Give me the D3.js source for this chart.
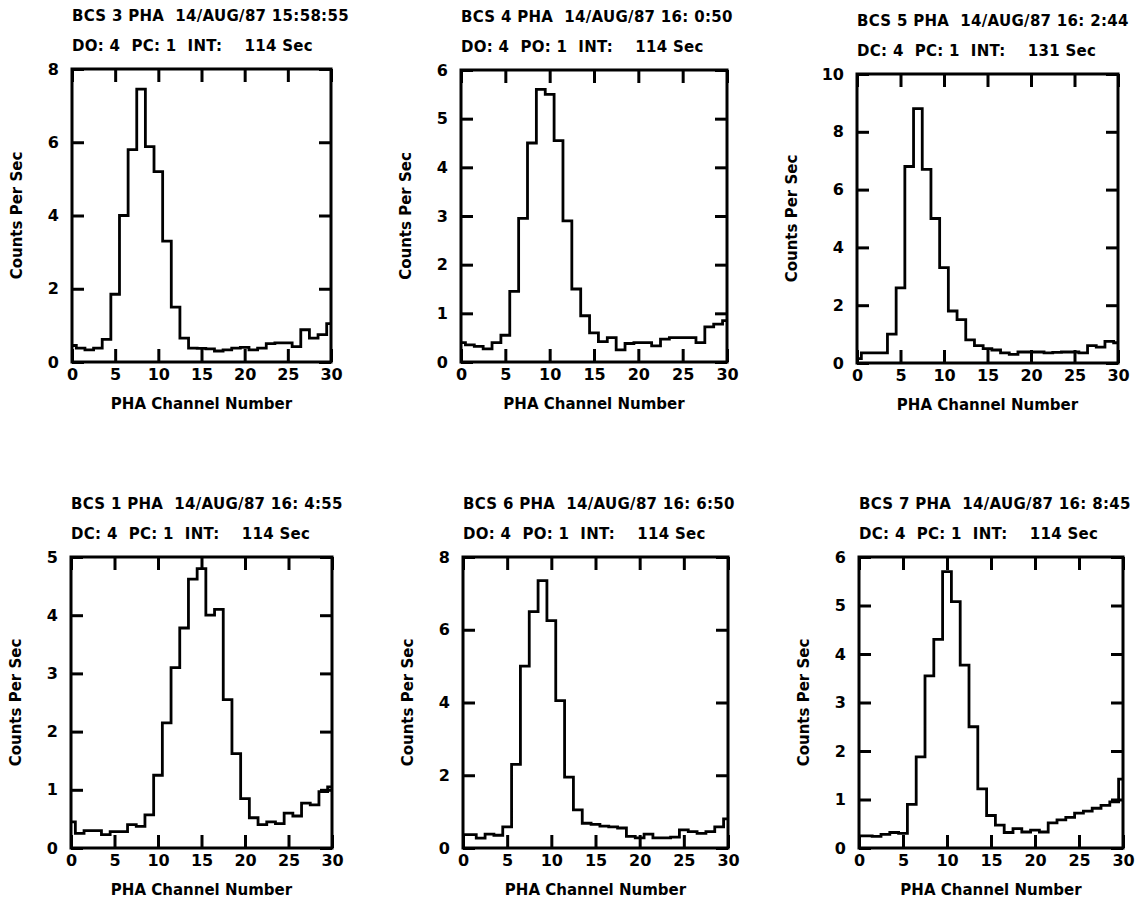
<!DOCTYPE html>
<html>
<head>
<meta charset="utf-8">
<script src="https://cdn.jsdelivr.net/npm/d3@7"></script>
<style>
  body { margin: 0; background: #fff; }
  svg text { font-family: "DejaVu Sans", sans-serif; font-weight: bold; fill: #000; }
</style>
</head>
<body>
<svg id="chart" width="1146" height="900"></svg>
<script>
// PHA channel numbers (bins centred on the integer channel)
const channels = [0, 1, 2, 3, 4, 5, 6, 7, 8, 9, 10, 11, 12, 13, 14, 15,
  16, 17, 18, 19, 20, 21, 22, 23, 24, 25, 26, 27, 28, 29, 30];
const xTicks = [0, 5, 10, 15, 20, 25, 30];

// counts per sec, one value per channel
const bcs3 = [0.45, 0.38, 0.33, 0.38, 0.62, 1.85, 4.0, 5.8, 7.45, 5.88, 5.2, 3.3, 1.5, 0.65, 0.38, 0.37,
  0.36, 0.3, 0.33, 0.38, 0.4, 0.33, 0.38, 0.5, 0.52, 0.52, 0.42, 0.88, 0.65, 0.75, 1.05];
const bcs4 = [0.4, 0.35, 0.32, 0.27, 0.4, 0.55, 1.45, 2.95, 4.5, 5.6, 5.5, 4.55, 2.9, 1.5, 0.95, 0.6,
  0.42, 0.5, 0.25, 0.38, 0.4, 0.4, 0.33, 0.47, 0.5, 0.5, 0.5, 0.4, 0.72, 0.78, 0.85];
const bcs5 = [0.15, 0.35, 0.35, 0.35, 1.0, 2.6, 6.8, 8.8, 6.7, 5.0, 3.3, 1.8, 1.5, 0.8, 0.6, 0.5,
  0.45, 0.35, 0.3, 0.38, 0.38, 0.38, 0.35, 0.37, 0.38, 0.38, 0.35, 0.6, 0.55, 0.75, 0.7];
const bcs1 = [0.45, 0.25, 0.3, 0.3, 0.23, 0.28, 0.28, 0.4, 0.37, 0.57, 1.25, 2.15, 3.1, 3.78, 4.62, 4.8,
  4.0, 4.1, 2.55, 1.62, 0.85, 0.52, 0.4, 0.45, 0.42, 0.6, 0.55, 0.77, 0.74, 0.97, 1.05];
const bcs6 = [0.37, 0.37, 0.27, 0.38, 0.35, 0.58, 2.3, 5.0, 6.5, 7.35, 6.25, 4.05, 1.95, 1.05, 0.68, 0.65,
  0.6, 0.58, 0.55, 0.32, 0.28, 0.38, 0.28, 0.28, 0.3, 0.5, 0.45, 0.4, 0.45, 0.58, 0.8];
const bcs7 = [0.25, 0.25, 0.24, 0.28, 0.32, 0.3, 0.9, 1.88, 3.55, 4.3, 5.7, 5.08, 3.77, 2.5, 1.22, 0.67,
  0.47, 0.32, 0.4, 0.33, 0.37, 0.33, 0.52, 0.58, 0.63, 0.72, 0.76, 0.82, 0.88, 0.95, 1.42];

const titles = [
  "BCS 3 PHA  14/AUG/87 15:58:55",
  "BCS 4 PHA  14/AUG/87 16: 0:50",
  "BCS 5 PHA  14/AUG/87 16: 2:44",
  "BCS 1 PHA  14/AUG/87 16: 4:55",
  "BCS 6 PHA  14/AUG/87 16: 6:50",
  "BCS 7 PHA  14/AUG/87 16: 8:45"
];
const subtitles = [
  "DO: 4  PC: 1  INT:    114 Sec",
  "DO: 4  PO: 1  INT:    114 Sec",
  "DC: 4  PC: 1  INT:    131 Sec",
  "DC: 4  PC: 1  INT:    114 Sec",
  "DO: 4  PO: 1  INT:    114 Sec",
  "DC: 4  PC: 1  INT:    114 Sec"
];
const yTicks = [
  [0, 2, 4, 6, 8],
  [0, 1, 2, 3, 4, 5, 6],
  [0, 2, 4, 6, 8, 10],
  [0, 1, 2, 3, 4, 5],
  [0, 2, 4, 6, 8],
  [0, 1, 2, 3, 4, 5, 6]
];
const series = [bcs3, bcs4, bcs5, bcs1, bcs6, bcs7];

// frame boxes [left, top, right, bottom]
const boxes = [
  [72, 69, 331, 362],
  [461, 70, 727, 362],
  [857, 74, 1118, 363],
  [71, 557, 332, 848],
  [463, 557, 728, 848],
  [859, 557, 1123, 848]
];

const svg = d3.select('#chart');

function drawPanel(i) {
  const [x0, y0, x1, y1] = boxes[i];
  const ticks = yTicks[i];

  const x = d3.scaleLinear().domain([0, 30]).range([x0, x1]);
  const y = d3.scaleLinear().domain([0, d3.max(ticks)]).range([y1, y0]);

  const g = svg.append('g');

  const line = d3.line()
    .x((d, k) => x(channels[k]))
    .y(d => y(d))
    .curve(d3.curveStep);

  g.append('path')
    .datum(series[i])
    .attr('d', line)
    .attr('fill', 'none')
    .attr('stroke', '#000')
    .attr('stroke-width', 2.8)
    .attr('stroke-linejoin', 'miter');

  const fmt = d3.format('d');
  const axes = [
    [d3.axisBottom(x).tickValues(xTicks).tickSize(-13).tickPadding(7).tickFormat(fmt), `translate(0,${y1})`],
    [d3.axisTop(x).tickValues(xTicks).tickSize(-13).tickFormat(''), `translate(0,${y0})`],
    [d3.axisLeft(y).tickValues(ticks).tickSize(-12).tickPadding(13).tickFormat(fmt), `translate(${x0},0)`],
    [d3.axisRight(y).tickValues(ticks).tickSize(-12).tickFormat(''), `translate(${x1},0)`]
  ];
  axes.forEach(([axis, tr]) => {
    const a = g.append('g').attr('transform', tr).call(axis.tickSizeOuter(0));
    a.select('.domain').remove();
    a.selectAll('line').attr('stroke', '#000').attr('stroke-width', 3);
    a.selectAll('text').attr('font-size', 16);
    a.attr('font-family', null).attr('font-size', null);
  });

  g.append('rect')
    .attr('x', x0).attr('y', y0)
    .attr('width', x1 - x0).attr('height', y1 - y0)
    .attr('fill', 'none')
    .attr('stroke', '#000')
    .attr('stroke-width', 3);

  g.append('text')
    .attr('x', x0).attr('y', y0 - 48)
    .attr('font-size', 15)
    .attr('letter-spacing', 0.3)
    .style('white-space', 'pre')
    .text(titles[i]);

  g.append('text')
    .attr('x', x0).attr('y', y0 - 18)
    .attr('font-size', 15)
    .attr('letter-spacing', 0.3)
    .style('white-space', 'pre')
    .text(subtitles[i]);

  g.append('text')
    .attr('x', (x0 + x1) / 2).attr('y', y1 + 47)
    .attr('text-anchor', 'middle')
    .attr('font-size', 15)
    .text('PHA Channel Number');

  const labelX = x0 - (d3.max(ticks) >= 10 ? 65 : 55);
  g.append('text')
    .attr('transform', `translate(${labelX},${(y0 + y1) / 2}) rotate(-90)`)
    .attr('text-anchor', 'middle')
    .attr('dy', '0.35em')
    .attr('font-size', 15)
    .text('Counts Per Sec');
}

series.forEach((s, i) => drawPanel(i));
</script>
</body>
</html>
